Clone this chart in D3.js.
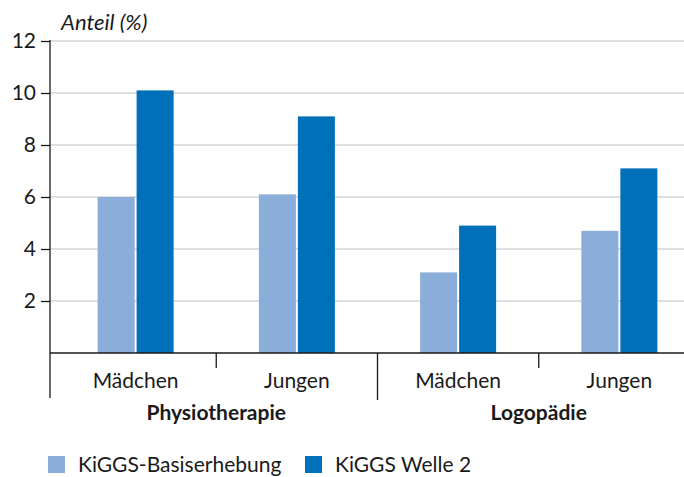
<!DOCTYPE html>
<html>
<head>
<meta charset="utf-8">
<script src="https://d3js.org/d3.v7.min.js"></script>
<style>
  body { margin: 0; background: #fff; }
  text { font-family: "Lato", "Open Sans", sans-serif; fill: #1a1a1a; }
</style>
</head>
<body>
<div id="chart"></div>
<script>
// data
var groups = ["Physiotherapie", "Logopädie"];
var subgroups = ["Mädchen", "Jungen"];
var seriesNames = ["KiGGS-Basiserhebung", "KiGGS Welle 2"];
var basis = [6.0, 6.1, 3.1, 4.7];
var welle2 = [10.1, 9.1, 4.9, 7.1];
var yTicks = [2, 4, 6, 8, 10, 12];
var colors = ["#8badda", "#0070ba"];

var w = 684, h = 477;
var x0 = 50, yBase = 353;
var fs = "21px";

var cats = [];
groups.forEach(function(g) {
  subgroups.forEach(function(s) { cats.push(g + "|" + s); });
});

var svg = d3.select("#chart").append("svg").attr("width", w).attr("height", h);

var y = d3.scaleLinear().domain([0, 12]).range([yBase, 41]);
var x = d3.scaleBand().domain(cats).range([55, 700]);
var xs = d3.scaleBand().domain(seriesNames).range([-38, 38]).paddingInner(0.05);

// gridlines
svg.selectAll("line.grid").data(yTicks).enter().append("line")
  .attr("class", "grid")
  .attr("x1", x0).attr("x2", w)
  .attr("y1", function(d) { return y(d); })
  .attr("y2", function(d) { return y(d); })
  .attr("stroke", "#d3d6da").attr("stroke-width", 1.3);

// bars
var values = [basis, welle2];
seriesNames.forEach(function(sn, si) {
  svg.selectAll("rect.s" + si).data(values[si]).enter().append("rect")
    .attr("class", "s" + si)
    .attr("x", function(d, i) { return x(cats[i]) + x.bandwidth() / 2 + xs(sn); })
    .attr("width", xs.bandwidth())
    .attr("y", function(d) { return y(d); })
    .attr("height", function(d) { return yBase - y(d); })
    .attr("fill", colors[si]);
});

// y axis
var yAxis = svg.append("g").attr("transform", "translate(" + x0 + ",0)")
  .call(d3.axisLeft(y).tickValues(yTicks).tickSize(9).tickPadding(5).tickFormat(d3.format("d")));
yAxis.select(".domain").remove();
yAxis.selectAll(".tick line").attr("stroke", "#1a1a1a").attr("stroke-width", 1.3);
yAxis.selectAll(".tick text").style("font-size", fs).attr("fill", "#1a1a1a");
svg.append("line").attr("x1", x0).attr("x2", x0).attr("y1", y(12) - 1).attr("y2", yBase + 45)
  .attr("stroke", "#1a1a1a").attr("stroke-width", 1.3);

svg.append("text").attr("x", 61).attr("y", 30)
  .style("font-size", "22px").style("font-style", "italic").text("Anteil (%)");

// x axis baseline
svg.append("line").attr("x1", x0).attr("x2", w).attr("y1", yBase).attr("y2", yBase)
  .attr("stroke", "#1a1a1a").attr("stroke-width", 1.3);

// separators
cats.forEach(function(c, i) {
  if (i === 0) return;
  var xb = x(c);
  var major = i % subgroups.length === 0;
  svg.append("line").attr("x1", xb).attr("x2", xb)
    .attr("y1", yBase).attr("y2", major ? yBase + 47 : yBase + 15)
    .attr("stroke", "#1a1a1a").attr("stroke-width", 1.3);
});

// sub labels
svg.selectAll("text.sub").data(cats).enter().append("text")
  .attr("class", "sub")
  .attr("x", function(d) { return x(d) + x.bandwidth() / 2; })
  .attr("y", 388).attr("text-anchor", "middle")
  .style("font-size", fs)
  .text(function(d) { return d.split("|")[1]; });

// group labels
svg.selectAll("text.grp").data(groups).enter().append("text")
  .attr("class", "grp")
  .attr("x", function(d) { return x(d + "|" + subgroups[subgroups.length - 1]); })
  .attr("y", 420).attr("text-anchor", "middle")
  .style("font-size", fs).style("font-weight", "bold")
  .text(function(d) { return d; });

// legend
var legX = [48, 305];
seriesNames.forEach(function(sn, si) {
  svg.append("rect").attr("x", legX[si]).attr("y", 456).attr("width", 17).attr("height", 17)
    .attr("fill", colors[si]);
  svg.append("text").attr("x", legX[si] + 30).attr("y", 472)
    .style("font-size", fs).text(sn);
});
</script>
</body>
</html>
